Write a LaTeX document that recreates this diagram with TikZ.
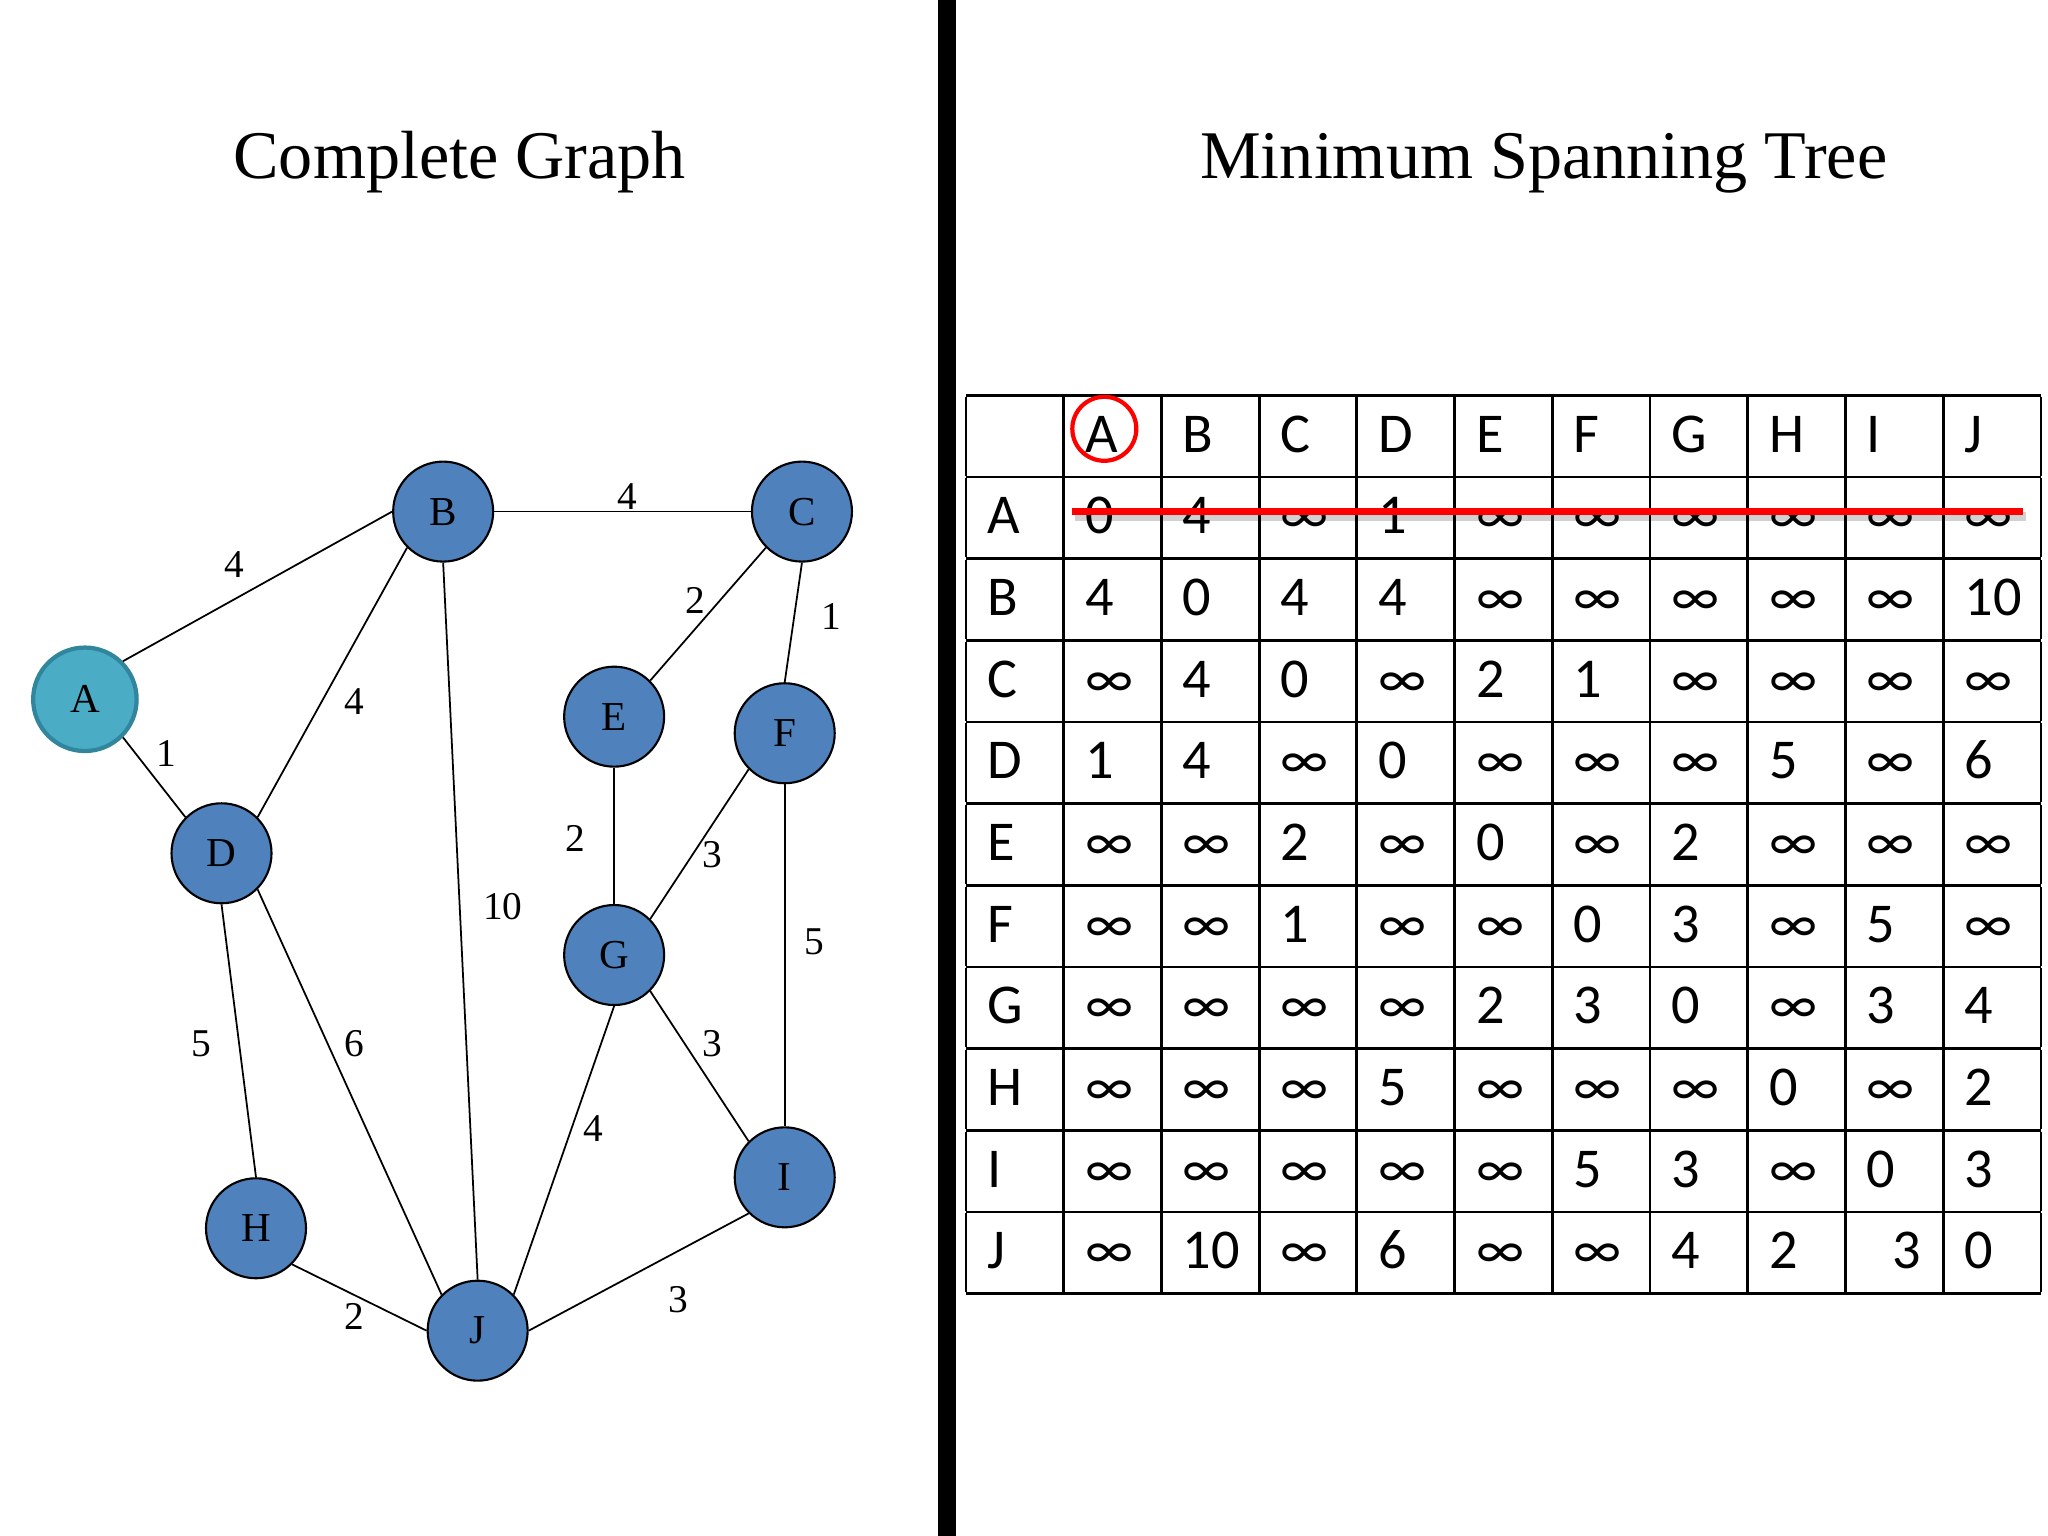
\documentclass[tikz,border=0pt]{standalone}
\usepackage{fontspec}
\setmainfont{Liberation Serif}
\newfontfamily\tablefont{Carlito}
\usetikzlibrary{positioning, calc}
\definecolor{nodeblue}{HTML}{4F81BD}
\definecolor{startfill}{HTML}{4BACC6}
\definecolor{startline}{HTML}{31859C}
\tikzset{
  vertex/.style={
    circle,
    draw=black, line width=0.6pt,
    fill=nodeblue,
    minimum size=1.0cm,
    inner sep=0pt,
    font=\fontsize{11.7}{14}\selectfont
  },
  start/.style={
    vertex,
    fill=startfill,
    draw=startline, line width=1.2pt,
    minimum size=1.035cm
  },
  edge/.style={
    draw=black,
    line width=0.5pt
  },
  weight/.style={
    inner sep=0pt,
    font=\fontsize{11.2}{13}\selectfont
  },
  title/.style={
    anchor=base,
    font=\fontsize{19.4}{23}\selectfont
  },
  matrixbox/.style={
    inner sep=0pt,
    anchor=north west,
    font=\tablefont\fontsize{16}{19}\selectfont
  }
}
\newcommand{\infsym}{∞}
\newcommand{\rowstrut}{\rule[-0.2346cm]{0pt}{0.7886cm}}

\begin{document}
\begin{tikzpicture}[x=0.013061cm, y=-0.013061cm]
\useasboundingbox (0,0) rectangle (1568,1176);

% divider
\fill[black] (718,0) rectangle (732,1176);

% titles
\node[title] (graphtitle) at (352,137) {Complete Graph};
\node[title] (treetitle) at (1182,137) {Minimum Spanning Tree};

% nodes
\node[start]  (A) at (65,535.4)    {A};
\node[vertex] (B) at (339.3,391.7) {B};
\node[vertex] (C) at (614,391.7)   {C};
\node[vertex] (E) at (470.2,548.7) {E};
\node[vertex] (F) at (600.8,561.4) {F};
\node[vertex] (D) at (169.6,653.3) {D};
\node[vertex] (G) at (470.2,731.2) {G};
\node[vertex] (H) at (196,940.4)   {H};
\node[vertex] (I) at (600.8,901.4) {I};
\node[vertex] (J) at (365.7,1018.8) {J};

% edges
\draw [edge] (A.north east) -- (B.west);
\draw [edge] (A.south east) -- (D.north west);
\draw [edge] (B.east) -- (C.west);
\draw [edge] (B.south west) -- (D.north east);
\draw [edge] (B.south) -- (J.north);
\draw [edge] (C.south west) -- (E.north east);
\draw [edge] (C.south) -- (F.north);
\draw [edge] (E.south) -- (G.north);
\draw [edge] (F.south west) -- (G.north east);
\draw [edge] (F.south) -- (I.north);
\draw [edge] (D.south) -- (H.north);
\draw [edge] (D.south east) -- (J.north west);
\draw [edge] (G.south east) -- (I.north west);
\draw [edge] (G.south) -- (J.north east);
\draw [edge] (H.south east) -- (J.west);
\draw [edge] (I.south west) -- (J.east);

% weights
\node[weight] (wAB) at (179.3,432.6) {4};
\node[weight] (wAD) at (127.5,576.7) {1};
\node[weight] (wBC) at (480.4,380.3) {4};
\node[weight] (wBD) at (271.2,537.2) {4};
\node[weight] (wBJ) at (385,694.2)   {10};
\node[weight] (wCE) at (532.7,459.4) {2};
\node[weight] (wCF) at (636.4,472.1) {1};
\node[weight] (wEG) at (440.8,641.8) {2};
\node[weight] (wFG) at (545,654.6)   {3};
\node[weight] (wFI) at (623.2,721)   {5};
\node[weight] (wDH) at (153.8,798.8) {5};
\node[weight] (wDJ) at (271.6,799.3) {6};
\node[weight] (wGI) at (545,798.8)   {3};
\node[weight] (wGJ) at (454,863.9)   {4};
\node[weight] (wHJ) at (271.2,1008)  {2};
\node[weight] (wIJ) at (519.5,995.3) {3};

% distance table
\node[matrixbox] (dist) at (739,301)
{ \setlength{\tabcolsep}{0.215cm}%
  \setlength{\arrayrulewidth}{0.8pt}%
  \begin{tabular}{|*{11}{p{0.5473cm}|}}
      \hline
      \rowstrut  & A & B & C & D & E & F & G & H & I & J \\
      \hline
      \rowstrut A & 0 & 4 & \infsym & 1 & \infsym & \infsym & \infsym & \infsym & \infsym & \infsym \\
      \hline
      \rowstrut B & 4 & 0 & 4 & 4 & \infsym & \infsym & \infsym & \infsym & \infsym & 10 \\
      \hline
      \rowstrut C & \infsym & 4 & 0 & \infsym & 2 & 1 & \infsym & \infsym & \infsym & \infsym \\
      \hline
      \rowstrut D & 1 & 4 & \infsym & 0 & \infsym & \infsym & \infsym & 5 & \infsym & 6 \\
      \hline
      \rowstrut E & \infsym & \infsym & 2 & \infsym & 0 & \infsym & 2 & \infsym & \infsym & \infsym \\
      \hline
      \rowstrut F & \infsym & \infsym & 1 & \infsym & \infsym & 0 & 3 & \infsym & 5 & \infsym \\
      \hline
      \rowstrut G & \infsym & \infsym & \infsym & \infsym & 2 & 3 & 0 & \infsym & 3 & 4 \\
      \hline
      \rowstrut H & \infsym & \infsym & \infsym & 5 & \infsym & \infsym & \infsym & 0 & \infsym & 2 \\
      \hline
      \rowstrut I & \infsym & \infsym & \infsym & \infsym & \infsym & 5 & 3 & \infsym & 0 & 3 \\
      \hline
      \rowstrut J & \infsym & 10 & \infsym & 6 & \infsym & \infsym & 4 & 2 & \hspace*{0.255cm}3 & 0 \\
      \hline
  \end{tabular}
};

% start column mark and crossed-out row
\draw [red, line width=1.2pt] (845.5,328.3) circle [radius=0.32cm];
\draw [black, opacity=0.18, line width=2.6pt] (823,395.5) -- (1551,395.5);
\draw [red, line width=2pt] (821,391.7) -- (1549,391.7);

\end{tikzpicture}
\end{document}
